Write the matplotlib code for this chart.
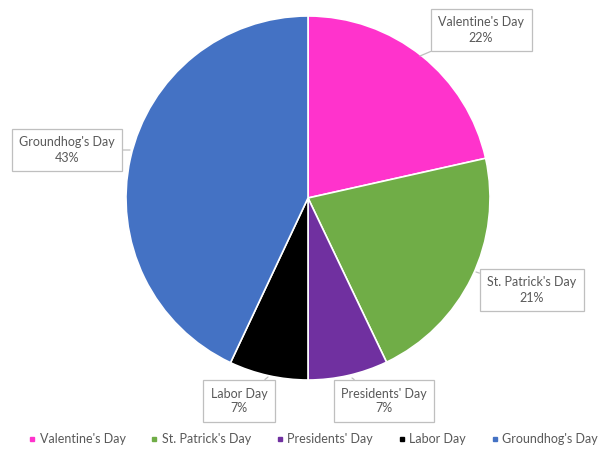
import matplotlib
matplotlib.use("Agg")
import matplotlib.pyplot as plt
from matplotlib.lines import Line2D

labels = ["Valentine's Day", "St. Patrick's Day", "Presidents' Day", "Labor Day", "Groundhog's Day"]
shares = [21.5, 21.4, 7.1, 7.0, 43.0]
colors = ["#FF33CC", "#70AD47", "#7030A0", "#000000", "#4472C4"]

plt.rcParams['font.family'] = ['Lato', 'DejaVu Sans']

fig = plt.figure(figsize=(6, 4.51), dpi=100)
ax = fig.add_axes([0, 0, 1, 1])

ax.pie(shares, colors=colors, startangle=90, counterclock=False,
       center=(308, 253), radius=182,
       wedgeprops=dict(edgecolor='white', linewidth=1.2))
ax.set_xlim(0, 600)
ax.set_ylim(0, 451)
ax.set_aspect('equal')
ax.axis('off')

# label box centre (pixels from top) and where the pointer touches the pie
boxes = [(481, 30, 420, 56), (532, 290, 476, 272), (384, 401, 352, 378),
         (239, 401, 268, 377), (67, 150, 130, 150)]
for lab, val, (bx, by, px, py) in zip(labels, shares, boxes):
    ax.annotate(f"{lab}\n{val:.0f}%", xy=(px, 451 - py), xytext=(bx, 451 - by),
                ha='center', va='center', fontsize=9, color='#595959', linespacing=1.3,
                bbox=dict(boxstyle='square,pad=0.6', fc='white', ec='#BFBFBF', lw=0.9),
                arrowprops=dict(arrowstyle='-', color='#BFBFBF', lw=0.9, shrinkA=0, shrinkB=0))

handles = [Line2D([], [], marker='s', linestyle='', color=c, markersize=3.5) for c in colors]
fig.legend(handles, labels, loc='lower center', ncol=5, frameon=False, fontsize=9,
           labelcolor='#595959', handletextpad=0.1, handlelength=1.0, columnspacing=1.8,
           bbox_to_anchor=(0.52, -0.012))

fig.savefig('out.png', dpi=100)
